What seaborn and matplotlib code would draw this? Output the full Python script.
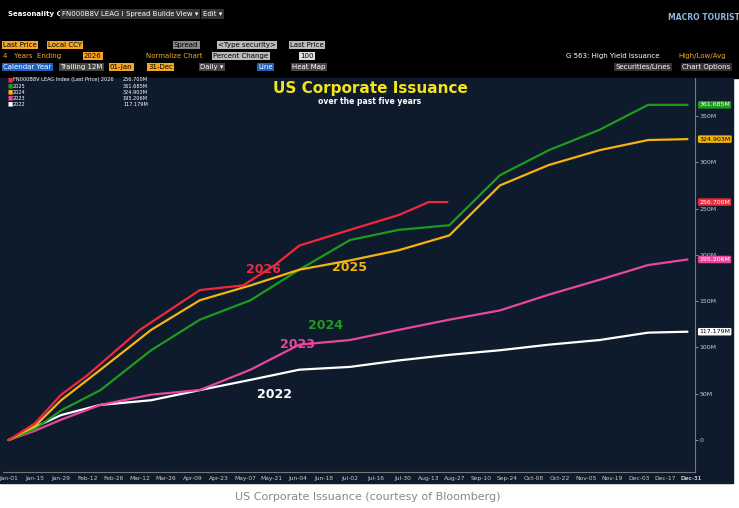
import numpy as np
import pandas as pd
import matplotlib
matplotlib.use('Agg')
import matplotlib.pyplot as plt
import seaborn as sns

# day-of-year positions and cumulative issuance ($M)
days_2026 = [0, 14, 28, 42, 70, 102, 125, 142, 155, 182, 208, 224, 234]
vals_2026 = [0, 18, 49, 70, 119, 162, 167, 189, 210, 227, 243, 257, 257]

days_full = [0, 14, 28, 49, 76, 102, 129, 155, 182, 208, 235, 262, 288, 315, 341, 362]
vals_orange = [0, 15, 43, 76, 119, 151, 167, 184, 194, 205, 221, 275, 297, 313, 324, 325]
vals_green = [0, 12, 32, 54, 97, 130, 151, 184, 216, 227, 232, 286, 313, 335, 362, 362]
vals_pink = [0, 10, 22, 38, 49, 54, 76, 103, 108, 119, 130, 140, 157, 173, 189, 195]
vals_white = [0, 14, 27, 38, 43, 54, 65, 76, 79, 86, 92, 97, 103, 108, 116, 117]

line_years = ['2026', '2025', '2024', '2023', '2022']
line_colors = ['#f0283c', '#f5b30f', '#1e9a1e', '#e8479e', '#ffffff']
end_labels = ['256.700M', '324.903M', '361.685M', '195.206M', '117.179M']

legend_names = ['FN000B8V LEAG Index (Last Price) 2026', '2025', '2024', '2023', '2022']
legend_vals = ['256.700M', '361.685M', '324.903M', '195.206M', '117.179M']
legend_colors = ['#f0283c', '#1e9a1e', '#f5b30f', '#e8479e', '#ffffff']

sns.set_style('dark')
plt.rcParams['font.family'] = ['DejaVu Sans']
BG = '#0e1b2c'

fig = plt.figure(figsize=(7.39, 5.08), dpi=100)
fig.patch.set_facecolor('white')
W, H = 739, 508

def px(x, y):
    return x / W, 1 - y / H

# black header and dark panel
fig.add_artist(plt.Rectangle((0, 1 - 78 / H), 1, 78 / H, transform=fig.transFigure, color='black', zorder=0))
fig.add_artist(plt.Rectangle((0, 1 - 483 / H), 733 / W, 405 / H, transform=fig.transFigure, color=BG, zorder=0))

# toolbar texts
fs = 5
fig.text(*px(8, 14), 'Seasonality Chart', color='white', fontsize=fs, va='center', weight='bold')
bar = [(62, 'FN000B8V LEAG Index'), (126, 'Spread Builder'), (176, 'View ▾'), (203, 'Edit ▾')]
for x, t in bar:
    fig.text(*px(x, 14), t, color='white', fontsize=fs, va='center',
             bbox=dict(boxstyle='square,pad=0.3', fc='#333', ec='none'))
row1 = [(3, 'Last Price', '#f5a623'), (48, 'Local CCY', '#f5a623'), (174, 'Spread', '#888'),
        (218, '<Type security>', '#bbb'), (290, 'Last Price', '#bbb')]
for x, t, c in row1:
    fig.text(*px(x, 45), t, color='black', fontsize=fs, va='center', bbox=dict(boxstyle='square,pad=0.2', fc=c, ec='none'))
fig.text(*px(3, 56), '4   Years  Ending', color='#f5a623', fontsize=fs, va='center')
fig.text(*px(84, 56), '2026', color='black', fontsize=fs, va='center', bbox=dict(boxstyle='square,pad=0.2', fc='#f5a623', ec='none'))
fig.text(*px(146, 56), 'Normalize Chart', color='#f5a623', fontsize=fs, va='center')
fig.text(*px(213, 56), 'Percent Change', color='black', fontsize=fs, va='center', bbox=dict(boxstyle='square,pad=0.2', fc='#bbb', ec='none'))
fig.text(*px(300, 56), '100', color='black', fontsize=fs, va='center', bbox=dict(boxstyle='square,pad=0.2', fc='#ddd', ec='none'))
fig.text(*px(566, 56), 'G 563: High Yield Issuance', color='white', fontsize=fs, va='center')
fig.text(*px(678, 56), 'High/Low/Avg', color='#f5a623', fontsize=fs, va='center')
row3 = [(3, 'Calendar Year', '#1f5fbf', 'white'), (60, 'Trailing 12M', '#444', 'white'), (110, '01-Jan', '#f5a623', 'black'),
        (148, '31-Dec', '#f5a623', 'black'), (200, 'Daily ▾', '#444', 'white'), (258, 'Line', '#1f5fbf', 'white'),
        (292, 'Heat Map', '#444', 'white'), (615, 'Securities/Lines', '#333', 'white'), (682, 'Chart Options', '#333', 'white')]
for x, t, c, tc in row3:
    fig.text(*px(x, 67), t, color=tc, fontsize=fs, va='center', bbox=dict(boxstyle='square,pad=0.2', fc=c, ec='none'))
fig.text(*px(668, 17), 'MACRO TOURIST', color='#8fb4e0', fontsize=5.5, weight='bold', va='center')

ax = fig.add_axes([3 / W, 36 / H, 692 / W, 394 / H])
ax.set_facecolor(BG)
series = [(days_2026, vals_2026), (days_full, vals_orange), (days_full, vals_green),
          (days_full, vals_pink), (days_full, vals_white)]
for i in [4, 3, 2, 1, 0]:
    d, v = series[i]
    sns.lineplot(x=d, y=v, ax=ax, color=line_colors[i], lw=1.6, zorder=3 + (4 - i))

ax.set_xlim(-3, 366)
ax.set_ylim(-34.5, 391)
xt = np.arange(0, 365, 14).tolist() + [364]
xl = [d.strftime('%b-%d') for d in pd.Timestamp('2026-01-01') + pd.to_timedelta(xt, unit='D')]
ax.set_xticks(xt)
ax.set_xticklabels(xl, fontsize=4.3, color='#cccccc')
yt = [0, 50, 100, 150, 200, 250, 300, 350]
ax.yaxis.tick_right()
ax.set_yticks(yt)
ax.set_yticklabels(['0'] + [f'{v}M' for v in yt[1:]], fontsize=4.5, color='#cccccc')
ax.tick_params(length=2, color='#888888', pad=1)
ax.grid(False)
for s in ax.spines.values():
    s.set_visible(False)
ax.spines['right'].set_visible(True)
ax.spines['right'].set_color('#777777')
ax.spines['bottom'].set_visible(True)
ax.spines['bottom'].set_color('#777777')

finals = [series[i][1][-1] for i in range(5)]
for i in range(5):
    ax.annotate(end_labels[i], xy=(1.0, finals[i]), xycoords=('axes fraction', 'data'), xytext=(3, 0),
                textcoords='offset points', fontsize=4.5, va='center', ha='left',
                color='black' if i in (1, 4) else 'white',
                bbox=dict(boxstyle='round,pad=0.2', fc=line_colors[i], ec='none'), annotation_clip=False)

# year labels
lab_pos = [(136, 184), (182, 186), (169, 124), (154, 103), (142, 49)]
for i, (d, v) in enumerate(lab_pos):
    ax.text(d, v, line_years[i], color=line_colors[i], fontsize=9, weight='bold', ha='center', va='center', zorder=10)

# legend block
for i in range(5):
    y = 80 + i * 6
    fig.text(*px(7, y), '■', color=legend_colors[i], fontsize=4, va='center')
    fig.text(*px(13, y), legend_names[i], color='white', fontsize=3.6, va='center')
    fig.text(*px(148, y), legend_vals[i], color='white', fontsize=3.6, va='center', ha='right')

fig.text(*px(370, 88), 'US Corporate Issuance', color='#f5e31a', fontsize=11, weight='bold', ha='center', va='center')
fig.text(*px(370, 101), 'over the past five years', color='white', fontsize=5.5, weight='bold', ha='center', va='center')
fig.text(*px(368, 497), 'US Corporate Issuance (courtesy of Bloomberg)', color='#888888', fontsize=8, ha='center', va='center')

fig.savefig('out.png', dpi=100, facecolor=fig.get_facecolor())
